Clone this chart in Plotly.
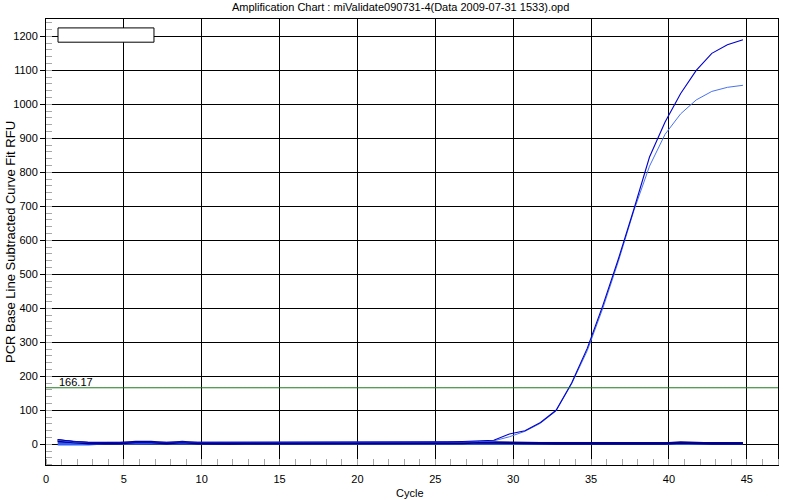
import plotly.graph_objects as go

# cycle positions of the data points
cycles = [c - 0.25 for c in range(1, 46)]

# amplifying samples
amp_dark = [14, 8, 5, 5, 5, 5, 5, 5, 5, 5, 5, 5, 5, 5, 5, 5, 5, 5, 5, 5,
             5, 5, 5, 5, 6, 7, 8, 10, 12, 30, 40, 64, 100, 180, 282, 408, 545, 692, 845, 948,
             1032, 1100, 1150, 1175, 1190]
amp_light = [12, 7, 5, 5, 5, 5, 5, 5, 5, 5, 5, 5, 5, 5, 5, 5, 5, 5, 5, 5,
              5, 5, 5, 5, 5, 6, 7, 8, 10, 22, 38, 62, 98, 178, 275, 400, 538, 688, 818, 912,
              972, 1013, 1038, 1050, 1056]

# flat (negative) samples
flat_gray = [12, 6, 3, 2, 2, 2, 3, 3, 2, 2, 2, 2, 2, 2, 2, 2, 2, 2, 2, 2,
             2, 2, 2, 2, 2, 3, 2, 2, 2, 2, 2, 2, 2, 2, 3, 2, 2, 2, 2, 3,
             2, 2, 3, 2, 2]
flat_navy = [10, 6, 3, 3, 3, 7, 7, 3, 7, 3, 2, 2, 3, 3, 2, 2, 2, 2, 2, 3,
             2, 2, 2, 2, 2, 4, 4, 6, 5, 3, 3, 3, 2, 2, 2, 2, 2, 2, 2, 2,
             5, 3, 2, 2, 2]
flat_blue = [0, 0, 0, 3, 3, 2, 2, 2, 2, 2, 3, 3, 2, 2, 2, 2, 3, 3, 2, 2,
             3, 2, 4, 2, 2, 2, 2, 2, 2, 2, 2, 2, 2, 2, 2, 2, 2, 2, 2, 2,
             2, 2, 2, 2, 2]
flat_line = [6, 6, 5, 5, 5, 5, 5, 5, 5, 5, 5, 5, 5, 5, 5, 5, 5, 5, 5, 5,
             5, 5, 5, 5, 5, 5, 5, 5, 5, 5, 5, 5, 5, 5, 5, 5, 5, 5, 5, 5,
             5, 5, 5, 5, 5]

threshold = 166.17

y_ticks = list(range(0, 1201, 100))
x_ticks = list(range(0, 46, 5))

fig = go.Figure()
for vals, col, w in [(flat_gray, "#505050", 2.5), (flat_blue, "#3060ff", 2.5),
                     (flat_navy, "#000080", 2.5), (flat_line, "#000099", 1)]:
    fig.add_trace(go.Scatter(x=cycles, y=vals, mode="lines",
                             line=dict(color=col, width=w), showlegend=False,
                             hoverinfo="skip"))
fig.add_trace(go.Scatter(x=cycles, y=amp_light, mode="lines",
                         line=dict(color="#4a72f0", width=1), showlegend=False))
fig.add_trace(go.Scatter(x=cycles, y=amp_dark, mode="lines",
                         line=dict(color="#0000cc", width=1.1), showlegend=False))

fig.add_hline(y=threshold, line=dict(color="#1a7a1a", width=1))

font = "Liberation Sans, Arial, sans-serif"

fig.update_layout(
    width=800, height=500,
    margin=dict(l=46, r=22, t=19, b=35, autoexpand=False),
    paper_bgcolor="white", plot_bgcolor="white",
    font=dict(family=font, size=11, color="black"),
    showlegend=False,
    xaxis=dict(range=[0, 47], tickvals=x_ticks, showgrid=True, gridcolor="black",
               gridwidth=1, zeroline=False, showline=True, linecolor="black",
               linewidth=1, mirror=True, ticks="outside", ticklen=4,
               tickcolor="white", tickfont=dict(size=11), automargin=False,
               minor=dict(dtick=1, tick0=0, ticks="inside", ticklen=6,
                          tickcolor="#a8a8a8", showgrid=False)),
    yaxis=dict(range=[-61, 1251], tickvals=y_ticks, showgrid=True, gridcolor="black",
               gridwidth=1, zeroline=False, showline=True, linecolor="black",
               linewidth=1, mirror=True, ticks="outside", ticklen=5,
               tickcolor="black", tickfont=dict(size=11), automargin=False,
               minor=dict(dtick=20, tick0=0, ticks="inside", ticklen=6,
                          tickcolor="#a8a8a8", showgrid=False)),
)

# empty legend box
fig.add_shape(type="rect", xref="paper", yref="paper",
              x0=0.0164, x1=0.1475, y0=0.948, y1=0.98,
              line=dict(color="black", width=1), fillcolor="white")

fig.add_annotation(text="Amplification Chart : miValidate090731-4(Data 2009-07-31 1533).opd",
                   xref="paper", yref="paper", x=(400 - 46) / 732, y=1,
                   yshift=12, showarrow=False, font=dict(size=11),
                   xanchor="center", yanchor="middle")
fig.add_annotation(text="PCR Base Line Subtracted Curve Fit RFU",
                   xref="paper", yref="paper", x=(10 - 46) / 732, y=0.5,
                   textangle=-90, showarrow=False, font=dict(size=13),
                   xanchor="center", yanchor="middle")
fig.add_annotation(text="Cycle", xref="paper", yref="paper", x=(410 - 46) / 732,
                   y=0, yshift=-28, showarrow=False, font=dict(size=11),
                   xanchor="center", yanchor="middle")
fig.add_annotation(text="166.17", xref="paper", yref="y", x=(57 - 46) / 732,
                   y=threshold, showarrow=False, font=dict(size=11, color="black"),
                   xanchor="left", yanchor="bottom", yshift=-2)

fig.write_html("out.html", config={"displayModeBar": False},
               post_script="document.body.style.margin='0';document.body.style.overflow='hidden';")
